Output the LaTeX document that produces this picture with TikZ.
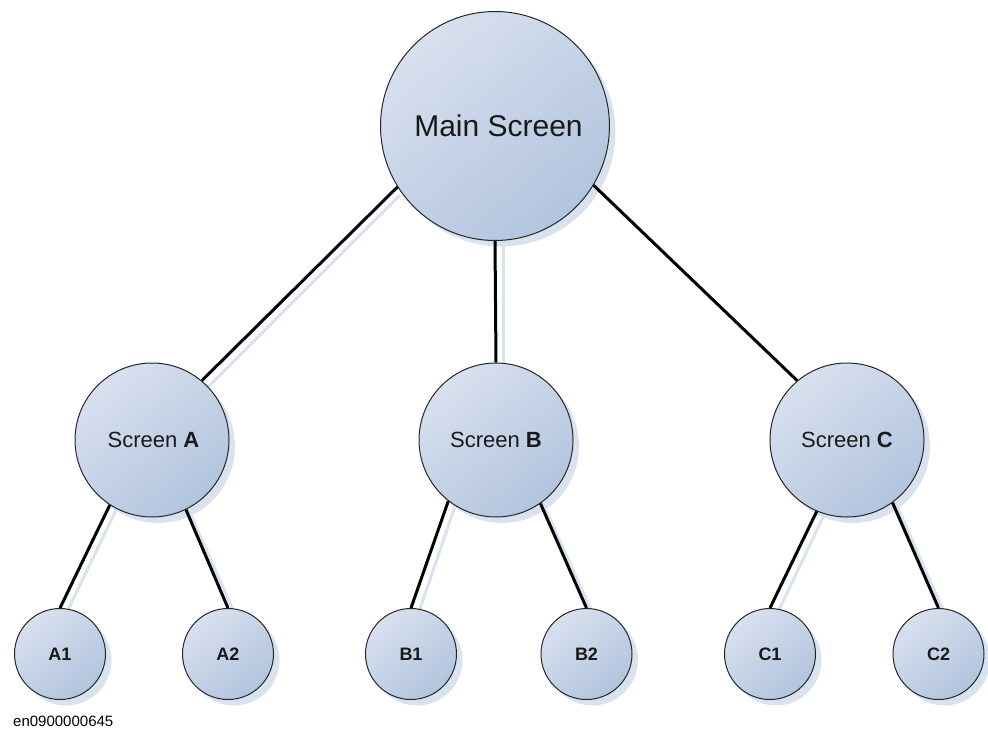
\documentclass[tikz,border=0pt]{standalone}
\usepackage{fontspec}
\setmainfont{Liberation Sans}
\definecolor{shadowblue}{HTML}{D9E3F0}
\definecolor{filllight}{HTML}{D8E0EE}
\definecolor{filldark}{HTML}{B2C4DE}
\begin{document}
\begin{tikzpicture}[x=1pt,y=-1pt,
  bubble/.style={circle,draw=black!85,line width=1pt,inner sep=0pt,
    top color=filllight,bottom color=filldark,shading angle=40,
    text=black!90},
  bigb/.style={bubble,minimum size=229pt,font=\fontsize{30}{36}\selectfont},
  midb/.style={bubble,minimum size=154pt,font=\fontsize{22}{26}\selectfont},
  smallb/.style={bubble,minimum size=91pt,font=\fontsize{18}{22}\selectfont\bfseries},
  link/.style={line width=3pt,black},
  shade/.style={line width=3pt,shadowblue}
]
\useasboundingbox (0,0) rectangle (988,731);
% shadows of circles
\foreach \x/\y/\r in {495/126/114.5, 152/440/77, 496/440/77, 847/440/77,
  60/654/45.5, 228/654/45.5, 411/654/45.5, 586.5/654/45.5, 770/654/45.5, 938.5/654/45.5}
  \fill[shadowblue] (\x+6,\y+6) circle (\r);
% connector shadows
\draw[shade] (393+7,190+5) -- (200+7,383+5);
\draw[shade] (496+7,240) -- (496+7,363);
\draw[shade] (110+7,504+4) -- (60+7,608+4);
\draw[shade] (185+5,509+4) -- (229+5,608+4);
\draw[shade] (448+7,502+4) -- (412+7,608+4);
\draw[shade] (539+5,502+4) -- (587+5,608+4);
\draw[shade] (817+7,511+4) -- (771+7,608+4);
\draw[shade] (892+5,502+4) -- (939+5,608+4);
% nodes
\node[bigb] (main) at (495,126) {\hspace*{7pt}Main Screen};
\node[midb] (A) at (152,440) {\hspace*{3pt}Screen \textbf{A}};
\node[midb] (B) at (496,440) {Screen \textbf{B}};
\node[midb] (C) at (847,440) {Screen \textbf{C}};
\node[smallb] (A1) at (60,654) {A1};
\node[smallb] (A2) at (228,654) {A2};
\node[smallb] (B1) at (411,654) {B1};
\node[smallb] (B2) at (586.5,654) {B2};
\node[smallb] (C1) at (770,654) {C1};
\node[smallb] (C2) at (938.5,654) {C2};
% connectors
\draw[link] (main.212) -- (A.50);
\draw[link] (main.south) -- (B.north);
\draw[link] (main.329) -- (C.130);
\draw[link] (A.237) -- (A1.north);
\draw[link] (A.296) -- (A2.north);
\draw[link] (B.232) -- (B1.north);
\draw[link] (B.305) -- (B2.north);
\draw[link] (C.247) -- (C1.north);
\draw[link] (C.306) -- (C2.north);
\node[anchor=west,font=\fontsize{15}{18}\selectfont,inner sep=0pt] (lbl) at (13,721) {en0900000645};
\end{tikzpicture}
\end{document}
